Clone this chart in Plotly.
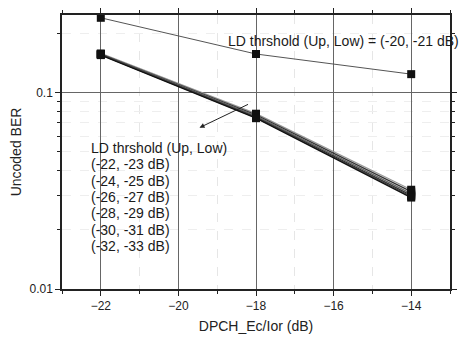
import plotly.graph_objects as go
import math

x = [-22, -18, -14]
top_series = [0.24, 0.157, 0.124]
low_series = [
    [0.158, 0.078, 0.0320],
    [0.157, 0.077, 0.0313],
    [0.157, 0.076, 0.0306],
    [0.156, 0.075, 0.0300],
    [0.156, 0.0745, 0.0296],
    [0.155, 0.074, 0.0292],
]
low_labels = ["(-22, -23 dB)", "(-24, -25 dB)", "(-26, -27 dB)",
              "(-28, -29 dB)", "(-30, -31 dB)", "(-32, -33 dB)"]
low_colors = ["#999999", "#333333", "#666666", "#222222", "#444444", "#111111"]

fig = go.Figure()
fig.add_trace(go.Scatter(x=x, y=top_series, mode="lines+markers",
                         line=dict(color="#555555", width=1),
                         marker=dict(symbol="square", size=8, color="#111111"),
                         showlegend=False))
for s, c in zip(low_series, low_colors):
    fig.add_trace(go.Scatter(x=x, y=s, mode="lines+markers",
                             line=dict(color=c, width=1.3),
                             marker=dict(symbol="square", size=8, color="#111111"),
                             showlegend=False))

font = dict(family="Liberation Sans, Arial, sans-serif", color="#1a1a1a")

fig.update_layout(
    width=465, height=340,
    margin=dict(l=62, r=8, t=8, b=45),
    paper_bgcolor="white", plot_bgcolor="white",
    font=dict(family="Liberation Sans, Arial, sans-serif", size=12, color="#222222"),
    xaxis=dict(range=[-23, -13], tickvals=[-22, -20, -18, -16, -14],
               ticks="outside", ticklen=5, tickcolor="#222222",
               showline=True, linecolor="#222222", linewidth=1.5, mirror="allticks",
               showgrid=True, gridcolor="#666666", gridwidth=1, zeroline=False,
               minor=dict(tickvals=[-23, -21, -19, -17, -15, -13], ticks="outside", ticklen=3,
                          tickcolor="#222222", showgrid=True, gridcolor="#e6e6e6", griddash="dash"),
               title=dict(text="DPCH_Ec/Ior (dB)", font=dict(size=14), standoff=9)),
    yaxis=dict(type="log", range=[-2, math.log10(0.248)], tickvals=[0.01, 0.1],
               ticktext=["0.01", "0.1"],
               ticks="outside", ticklen=5, tickcolor="#222222",
               showline=True, linecolor="#222222", linewidth=1.5, mirror="allticks",
               showgrid=True, gridcolor="#666666", gridwidth=1, zeroline=False,
               minor=dict(tickvals=[0.02, 0.03, 0.04, 0.05, 0.06, 0.07, 0.08, 0.09, 0.2],
                          ticks="outside", ticklen=3, tickcolor="#222222",
                          showgrid=True, gridcolor="#eeeeee", griddash="dash"),
               title=dict(text="Uncoded BER", font=dict(size=14), standoff=5)),
)

fig.add_annotation(xref="paper", yref="paper", x=(229 - 62) / 395, y=(295 - 35) / 287,
                   text="LD thrshold (Up, Low) = (-20, -21 dB)", showarrow=False,
                   xanchor="left", yanchor="middle", font=dict(size=14, **font))

block_lines = ["LD thrshold (Up, Low)"] + low_labels
for i, t in enumerate(block_lines):
    ypix = 147 + i * 17.2
    fig.add_annotation(xref="paper", yref="paper", x=(89 - 62) / 395, y=(295 - ypix) / 287,
                       text=t, showarrow=False, align="left",
                       xanchor="left", yanchor="middle", font=dict(size=14, **font))

# arrow pointing down-left across the lower lines
fig.add_annotation(xref="paper", yref="paper", x=(202 - 62) / 395, y=(295 - 126) / 287,
                   text="", showarrow=True, arrowhead=2, arrowsize=1, arrowwidth=1,
                   arrowcolor="#222222", ax=50, ay=-24)

fig.write_html("out.html")
